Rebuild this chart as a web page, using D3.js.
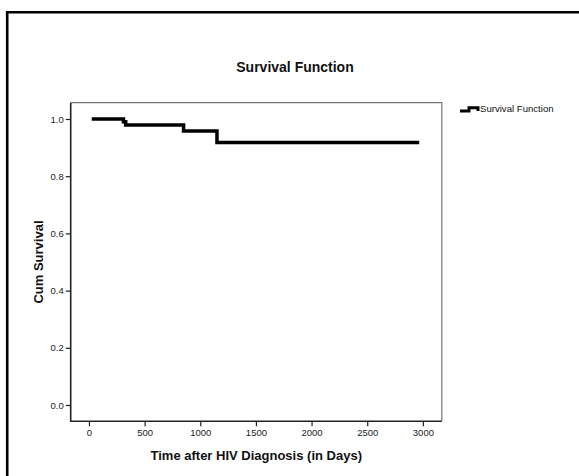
<!DOCTYPE html>
<html><head><meta charset="utf-8">
<script src="https://cdn.jsdelivr.net/npm/d3@7/dist/d3.min.js"></script>
<style>body{margin:0;background:#fff}svg{display:block;font-family:"Liberation Sans",Arial,sans-serif}</style>
</head><body><svg id="c" width="579" height="476"></svg>
<script>
// Kaplan-Meier step data (time in days, cumulative survival)
const times    = [25, 310, 330, 850, 1150, 2967];
const survival = [1.0, 0.99, 0.979, 0.958, 0.918, 0.918];
const xTicks = [0, 500, 1000, 1500, 2000, 2500, 3000];
const yTicks = [0.0, 0.2, 0.4, 0.6, 0.8, 1.0];
const title = "Survival Function";
const xTitle = "Time after HIV Diagnosis (in Days)";
const yTitle = "Cum Survival";
const legendLabel = "Survival Function";

const svg = d3.select("#c");
const L = 70.7, R = 441.8, T = 102.7, B = 421.3;
const x = d3.scaleLinear().domain([-164, 3170]).range([L, R]);
const y = d3.scaleLinear().domain([-0.057, 1.057]).range([B, T]);

// outer frame
svg.append("path").attr("d", "M7.2,480V12.2H590").attr("fill", "none")
  .attr("stroke", "#000").attr("stroke-width", 2.6);

// title
svg.append("text").attr("x", 295).attr("y", 71.5).attr("text-anchor", "middle")
  .attr("font-size", 14).attr("font-weight", "bold").attr("fill", "#111").text(title);

// plot frame top/right
svg.append("path").attr("d", `M${L},${T}H${R}V${B}`).attr("fill", "none")
  .attr("stroke", "#777").attr("stroke-width", 1.2);

// axes
const yAxis = svg.append("g").attr("transform", `translate(${L},0)`)
  .call(d3.axisLeft(y).tickValues(yTicks).tickFormat(d3.format(".1f")).tickSize(5).tickPadding(2));
const xAxis = svg.append("g").attr("transform", `translate(0,${B})`)
  .call(d3.axisBottom(x).tickValues(xTicks).tickFormat(d3.format("d")).tickSize(5).tickPadding(3));
[yAxis, xAxis].forEach(g => {
  g.select(".domain").remove();
  g.selectAll("line").attr("stroke", "#222").attr("stroke-width", 1.2);
  g.selectAll("text").attr("font-size", 9.5).attr("fill", "#222")
    .attr("font-family", '"Liberation Sans",Arial,sans-serif');
});
svg.append("path").attr("d", `M${L},${T}V${B}H${R}`).attr("fill", "none")
  .attr("stroke", "#222").attr("stroke-width", 1.6);

// axis titles
svg.append("text").attr("x", (L + R) / 2).attr("y", 460).attr("text-anchor", "middle")
  .attr("font-size", 13).attr("font-weight", "bold").attr("fill", "#111").text(xTitle);
svg.append("text").attr("transform", `translate(43,${(T + B) / 2}) rotate(-90)`)
  .attr("text-anchor", "middle").attr("font-size", 13).attr("font-weight", "bold")
  .attr("fill", "#111").text(yTitle);

// survival step curve
const pts = times.map((t, i) => [t, survival[i]]);
const line = d3.line().x(d => x(d[0])).y(d => y(d[1])).curve(d3.curveStepAfter);
svg.append("path").datum(pts).attr("d", line).attr("fill", "none")
  .attr("stroke", "#000").attr("stroke-width", 3.5);

// legend
svg.append("path").attr("d", "M460,111H469V107.8H478V111").attr("fill", "none")
  .attr("stroke", "#000").attr("stroke-width", 3);
svg.append("text").attr("x", 480).attr("y", 112).attr("font-size", 9.6)
  .attr("fill", "#111").text(legendLabel);
</script></body></html>
